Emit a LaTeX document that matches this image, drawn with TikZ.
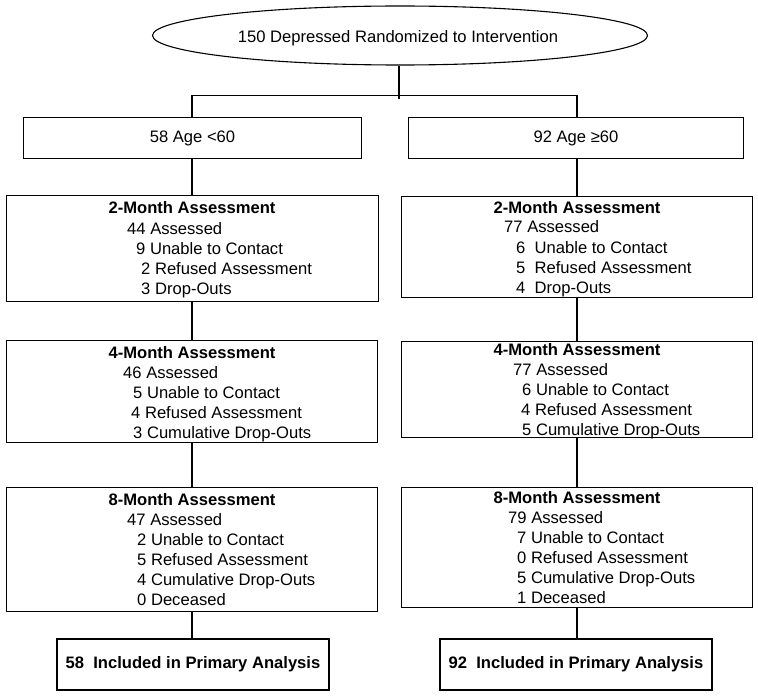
\documentclass[tikz,border=0pt]{standalone}
\usepackage{fontspec}
\setmainfont{Liberation Sans}
\usetikzlibrary{shapes.geometric}
\begin{document}
\begin{tikzpicture}[x=1pt,y=-1pt,
  every node/.style={font=\fontsize{16.6}{20}\selectfont},
  box/.style={draw, line width=1.1pt, inner sep=0pt},
  fin/.style={draw, line width=2.4pt, inner sep=0pt, font=\fontsize{16.6}{20}\selectfont\bfseries},
  conn/.style={line width=1.1pt},
  txt/.style={anchor=base west, inner sep=0pt},
  ttl/.style={anchor=base, inner sep=0pt, font=\fontsize{16.6}{20}\selectfont\bfseries}]
\useasboundingbox (0,0) rectangle (758,698);

% top ellipse
\node[draw, ellipse, line width=1.1pt, inner sep=0pt, minimum width=495pt, minimum height=59pt] (top) at (400,35.5) {};
\node[anchor=base, inner sep=0pt] (toptxt) at (398,43) {150 Depressed Randomized to Intervention};

% row 1
\node[box, minimum width=338pt, minimum height=41pt] (l0) at (192.5,138) {58 Age <60};
\node[box, minimum width=335pt, minimum height=41pt] (r0) at (576,138) {92 Age ≥60};

% assessment boxes
\node[box, minimum width=372pt, minimum height=106pt] (l2) at (192.5,248.5) {};
\node[box, minimum width=351pt, minimum height=101pt] (r2) at (577,247) {};
\node[box, minimum width=371pt, minimum height=102pt] (l4) at (192,391.5) {};
\node[box, minimum width=351pt, minimum height=96pt] (r4) at (577,389.5) {};
\node[box, minimum width=371pt, minimum height=124pt] (l8) at (192,549.5) {};
\node[box, minimum width=351pt, minimum height=120pt] (r8) at (577,547.5) {};

% final boxes
\node[fin, minimum width=272pt, minimum height=51pt] (lf) at (193,664.5) {58\ \ Included in Primary Analysis};
\node[fin, minimum width=272pt, minimum height=51pt] (rf) at (576,664.5) {92\ \ Included in Primary Analysis};

% texts: left 2-month
\node[ttl] (l2t) at (192,214) {2-Month Assessment};
\node[txt] (l2a) at (127,234) {44 Assessed};
\node[txt] (l2b) at (136,254) {9 Unable to Contact};
\node[txt] (l2c) at (141,274) {2 Refused Assessment};
\node[txt] (l2d) at (141,294) {3 Drop-Outs};
% right 2-month
\node[ttl] (r2t) at (577,213) {2-Month Assessment};
\node[txt] (r2a) at (504,233) {77 Assessed};
\node[txt] (r2b) at (516,253) {6\ \ Unable to Contact};
\node[txt] (r2c) at (516,273) {5\ \ Refused Assessment};
\node[txt] (r2d) at (516,293) {4\ \ Drop-Outs};
% left 4-month
\node[ttl] (l4t) at (192,358) {4-Month Assessment};
\node[txt] (l4a) at (123,378) {46 Assessed};
\node[txt] (l4b) at (133,398) {5 Unable to Contact};
\node[txt] (l4c) at (131,418) {4 Refused Assessment};
\node[txt] (l4d) at (133,438) {3 Cumulative Drop-Outs};
% right 4-month
\node[ttl] (r4t) at (577,355) {4-Month Assessment};
\node[txt] (r4a) at (513,375) {77 Assessed};
\node[txt] (r4b) at (522,395) {6 Unable to Contact};
\node[txt] (r4c) at (521,415) {4 Refused Assessment};
\node[txt] (r4d) at (522,435) {5 Cumulative Drop-Outs};
% left 8-month
\node[ttl] (l8t) at (192,505) {8-Month Assessment};
\node[txt] (l8a) at (127,525) {47 Assessed};
\node[txt] (l8b) at (137,545) {2 Unable to Contact};
\node[txt] (l8c) at (137,565) {5 Refused Assessment};
\node[txt] (l8d) at (137,585) {4 Cumulative Drop-Outs};
\node[txt] (l8e) at (137,605) {0 Deceased};
% right 8-month
\node[ttl] (r8t) at (577,503) {8-Month Assessment};
\node[txt] (r8a) at (508,523) {79 Assessed};
\node[txt] (r8b) at (517,543) {7 Unable to Contact};
\node[txt] (r8c) at (517,563) {0 Refused Assessment};
\node[txt] (r8d) at (517,583) {5 Cumulative Drop-Outs};
\node[txt] (r8e) at (517,603) {1 Deceased};

% connectors
\coordinate (split) at (399,99);
\coordinate (bl) at (192,95.5);
\coordinate (br) at (577,95.5);
\draw[conn] (split |- top.south) -- (split);
\draw[conn] (bl) -- (br);
\draw[conn] (bl) -- (bl |- l0.north);
\draw[conn] (br) -- (br |- r0.north);
\draw[conn] (bl |- l0.south) -- (bl |- l2.north);
\draw[conn] (bl |- l2.south) -- (bl |- l4.north);
\draw[conn] (bl |- l4.south) -- (bl |- l8.north);
\draw[conn] (bl |- l8.south) -- (bl |- lf.north);
\draw[conn] (br |- r0.south) -- (br |- r2.north);
\draw[conn] (br |- r2.south) -- (br |- r4.north);
\draw[conn] (br |- r4.south) -- (br |- r8.north);
\draw[conn] (br |- r8.south) -- (br |- rf.north);
\end{tikzpicture}
\end{document}
